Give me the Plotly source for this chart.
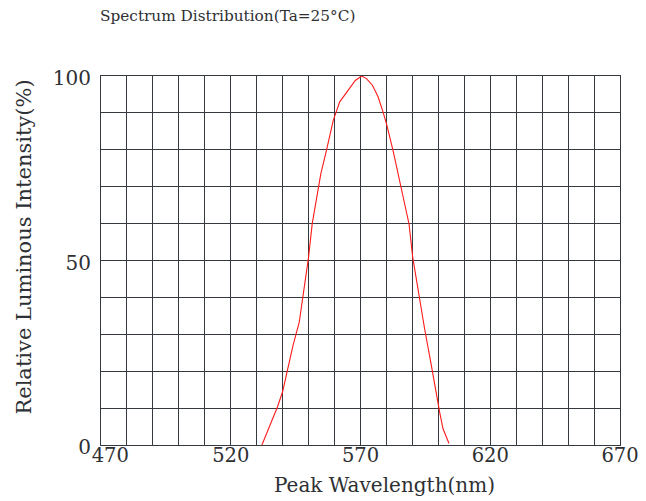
import plotly.graph_objects as go

# Data
wavelength = [532, 535, 538, 540, 542, 544, 546.4, 548, 550, 551.4, 553.1, 554.7, 556.9, 558.8, 559.5,
              562, 565.2, 568, 570.4, 572.3, 574.6, 576.8, 578.7, 580, 582.5, 585.1, 587, 588.7,
              590.1, 592.2, 594.7, 597.3, 599.2, 600.5, 601.8, 604.1]
intensity = [0, 5.3, 10.3, 14.5, 21, 27, 33.3, 41, 51, 60, 67.2, 73.5, 79.9, 85.7, 88,
             93, 96.1, 98.8, 100, 99.3, 97.5, 94.3, 90.2, 87.1, 79.9, 71.7, 65.4, 59.9,
             51, 41.5, 31.5, 21.6, 13.5, 8.9, 4.4, 0.4]

x_ticks = [470, 520, 570, 620, 670]
x_tick_labels = ["\u00a0\u00a0\u00a0470", "520", "570", "620", "670"]
y_ticks = [0, 50, 100]
y_tick_labels = ["0", "50", "100"]

title_text = "Spectrum Distribution(Ta=25°C)"
x_title = "Peak Wavelength(nm)"
y_title = "Relative Luminous Intensity(%)"

FONT = "DejaVu Serif"
TXT = "#2e3033"
GRID = "#353940"

# page body has an 8px margin; figure coordinates are offset accordingly
W, H = 630, 493
L, T, R, B = 92.7, 67.7, 18, 56.3
PW, PH = W - L - R, H - T - B

fig = go.Figure()
fig.add_trace(go.Scatter(x=wavelength, y=intensity, mode="lines",
                         line=dict(color="#ff1a1a", width=1.1), showlegend=False,
                         hoverinfo="skip"))

fig.update_layout(
    width=W, height=H,
    margin=dict(l=L, r=R, t=T, b=B, pad=0, autoexpand=False),
    paper_bgcolor="white", plot_bgcolor="white",
    font=dict(family=FONT, color=TXT),
    xaxis=dict(range=[470, 670], showgrid=True, gridcolor=GRID, gridwidth=1.2, automargin=False,
               tickmode="array", tickvals=x_ticks, ticktext=x_tick_labels,
               showline=True, linecolor=GRID, linewidth=1.2, mirror=True, zeroline=False,
               ticks="", ticklabelstandoff=-8, ticklabelshift=0, ticklabeloverflow="allow",
               tickfont=dict(family=FONT, size=19.5, color=TXT),
               minor=dict(dtick=10, tick0=470, showgrid=True, gridcolor=GRID, gridwidth=1.2)),
    yaxis=dict(range=[0, 100], showgrid=True, gridcolor=GRID, gridwidth=1.2, automargin=False,
               tickmode="array", tickvals=y_ticks, ticktext=y_tick_labels,
               showline=True, linecolor=GRID, linewidth=1.2, mirror=True, zeroline=False,
               ticks="", ticklabelstandoff=5, ticklabelshift=2, ticklabeloverflow="allow",
               tickfont=dict(family=FONT, size=20, color=TXT),
               minor=dict(dtick=10, tick0=0, showgrid=True, gridcolor=GRID, gridwidth=1.2)),
    annotations=[
        dict(text=title_text, xref="paper", yref="paper", x=0, xshift=-3, y=1.0, yshift=T - 8,
             xanchor="left", yanchor="middle", showarrow=False,
             font=dict(family=FONT, size=15.3, color=TXT)),
        dict(text=x_title, xref="paper", yref="paper", x=(384 - 100.7) / PW, y=0, yshift=-(485 - 444.7),
             xanchor="center", yanchor="middle", showarrow=False,
             font=dict(family=FONT, size=20, color=TXT)),
        dict(text=y_title, xref="paper", yref="paper", x=0, xshift=-(100.7 - 24), y=(444.7 - 247) / PH,
             xanchor="center", yanchor="middle", showarrow=False, textangle=-90,
             font=dict(family=FONT, size=21, color=TXT)),
    ],
)

fig.write_html("out.html")
